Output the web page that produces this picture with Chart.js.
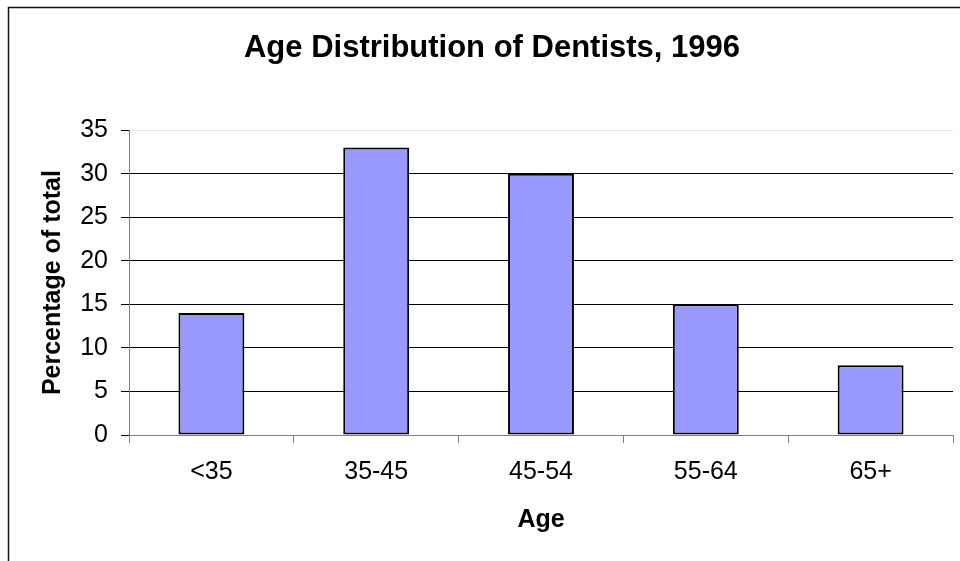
<!DOCTYPE html>
<html>
<head>
<meta charset="utf-8">
<script src="https://cdn.jsdelivr.net/npm/chart.js@4"></script>
<style>
  html, body { margin: 0; padding: 0; background: #fff; }
  #wrap { width: 960px; height: 561px; position: relative; }
</style>
</head>
<body>
<div id="wrap"><canvas id="c" width="960" height="561"></canvas></div>
<script>
const categories = ['<35', '35-45', '45-54', '55-64', '65+'];
const percentages = [14, 33, 30, 15, 8];
const chartTitle = 'Age Distribution of Dentists, 1996';
const xTitle = 'Age';
const yTitle = 'Percentage of total';
const yMin = 0, yMax = 35, yStep = 5;

const FONT = '"Liberation Sans", Arial, sans-serif';

const framePlugin = {
  id: 'frame',
  beforeDraw(chart) {
    const ctx = chart.ctx;
    ctx.save();
    ctx.fillStyle = '#ffffff';
    ctx.fillRect(0, 0, chart.width, chart.height);
    ctx.strokeStyle = '#111111';
    ctx.lineWidth = 1.5;
    ctx.strokeRect(8.5, 7.5, 1200, 1200);
    ctx.restore();
  }
};

new Chart(document.getElementById('c'), {
  type: 'bar',
  data: {
    labels: categories,
    datasets: [{
      data: percentages,
      backgroundColor: '#9999FF',
      borderColor: '#000000',
      borderWidth: 2,
      borderSkipped: false,
      barPercentage: 0.8,
      categoryPercentage: 0.5
    }]
  },
  options: {
    responsive: false,
    animation: false,
    devicePixelRatio: 1,
    layout: { padding: { left: 31, right: 7, top: 0, bottom: 0 } },
    plugins: {
      legend: { display: false },
      tooltip: { enabled: false },
      title: {
        display: true,
        text: chartTitle,
        color: '#000',
        font: { family: FONT, size: 31, weight: 'bold', lineHeight: 1.2 },
        padding: { top: 30, bottom: 63 }
      }
    },
    scales: {
      x: {
        grid: {
          offset: true,
          drawOnChartArea: false,
          drawTicks: true,
          tickLength: 8,
          color: '#808080',
          tickColor: '#808080'
        },
        border: { display: true, color: '#808080', width: 1 },
        ticks: {
          color: '#000',
          padding: 14,
          maxRotation: 0,
          font: { family: FONT, size: 25, lineHeight: 1.2 }
        },
        title: {
          display: true,
          text: xTitle,
          color: '#000',
          font: { family: FONT, size: 25, weight: 'bold', lineHeight: 1.2 },
          padding: { top: 0, bottom: 26 }
        },
        afterFit(scale) { scale.height = 126; }
      },
      y: {
        min: yMin,
        max: yMax,
        ticks: {
          stepSize: yStep,
          color: '#000',
          padding: 13,
          font: { family: FONT, size: 25, lineHeight: 1.2 }
        },
        grid: {
          drawTicks: true,
          tickLength: 8,
          color: (c) => c.tick && c.tick.value === yMax ? '#e6e6e6' : (c.tick && c.tick.value === yMin ? '#808080' : '#000000'),
          tickColor: '#000000'
        },
        border: { display: true, color: '#808080', width: 1 },
        title: {
          display: true,
          text: yTitle,
          color: '#000',
          font: { family: FONT, size: 25, weight: 'bold', lineHeight: 1.2 },
          padding: { top: 7, bottom: 0 }
        },
        afterFit(scale) { scale.width = 98; }
      }
    }
  },
  plugins: [framePlugin]
});
</script>
</body>
</html>
